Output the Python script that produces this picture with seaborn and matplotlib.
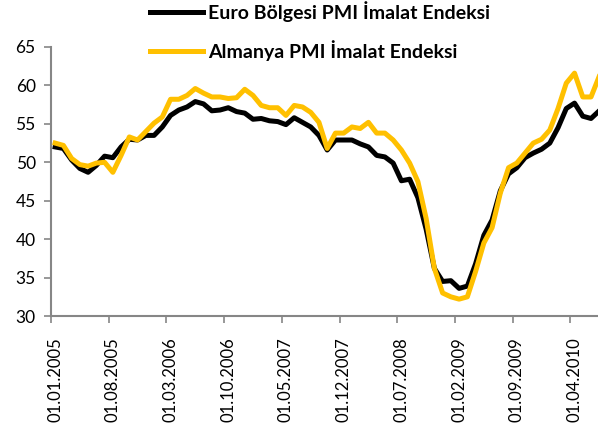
import numpy as np
import matplotlib
matplotlib.use("Agg")
import matplotlib.pyplot as plt
import pandas as pd
import seaborn as sns

# monthly values, Jan 2005 - Jul 2010
months = pd.date_range("2005-01-01", "2010-07-01", freq="MS")

euro = [52.0, 51.8, 50.3, 49.2, 48.7, 49.6, 50.8, 50.6, 52.0, 53.0, 52.9, 53.5,
        53.5, 54.6, 56.1, 56.8, 57.2, 57.9, 57.6, 56.7, 56.8, 57.1, 56.6, 56.4,
        55.6, 55.7, 55.4, 55.3, 54.9, 55.8, 55.2, 54.6, 53.5, 51.6, 52.9, 52.9,
        52.9, 52.4, 52.0, 50.9, 50.7, 49.9, 47.6, 47.8, 45.4, 41.3, 36.2, 34.5,
        34.6, 33.6, 33.9, 36.8, 40.5, 42.5, 46.3, 48.5, 49.3, 50.6, 51.2, 51.7,
        52.5, 54.5, 57.0, 57.7, 56.0, 55.7, 56.7]

almanya = [52.5, 52.2, 50.5, 49.7, 49.5, 49.9, 50.0, 48.7, 50.9, 53.3, 52.9, 54.0,
           55.1, 55.9, 58.2, 58.2, 58.7, 59.6, 59.0, 58.5, 58.5, 58.3, 58.4, 59.5,
           58.7, 57.4, 57.1, 57.1, 56.1, 57.4, 57.2, 56.5, 55.2, 51.8, 53.8, 53.8,
           54.6, 54.4, 55.2, 53.8, 53.8, 52.9, 51.6, 49.9, 47.5, 42.7, 36.2, 33.0,
           32.5, 32.2, 32.5, 35.8, 39.5, 41.5, 46.0, 49.3, 49.9, 51.2, 52.5, 53.0,
           54.2, 57.0, 60.3, 61.6, 58.5, 58.5, 61.2]

series_names = ["Euro Bölgesi PMI İmalat Endeksi", "Almanya PMI İmalat Endeksi"]
label_step = 7

df = pd.DataFrame({
    "x": np.tile(np.arange(len(months)), 2),
    "value": euro + almanya,
    "series": np.repeat(series_names, len(months)),
})

plt.rcParams["font.family"] = ["Lato", "DejaVu Sans"]

fig = plt.figure(figsize=(5.98, 4.30), dpi=100)
ax = fig.add_axes([0.0853, 0.265, 0.9237, 0.6257])

ax = sns.lineplot(data=df, x="x", y="value", hue="series",
                  palette=["black", "#FFC000"], linewidth=3.6, ax=ax,
                  legend=False)

ax.set_ylim(30, 65)
ax.set_yticks(range(30, 66, 5))
ax.set_xlim(-0.5, len(months) - 0.5)

# tick marks between categories, labels under categories
label_pos = np.arange(0, len(months), label_step)
ax.set_xticks(label_pos - 0.5)
ax.set_xticklabels([])
ax.set_xticks(label_pos, minor=True)
ax.set_xticklabels([months[i].strftime("%d.%m.%Y") for i in label_pos],
                   minor=True, rotation=90, fontsize=12)
ax.tick_params(axis="x", which="minor", length=0, pad=15)
ax.tick_params(axis="x", which="major", length=5, width=1.2, color="#868686")
ax.tick_params(axis="y", length=5, width=1.2, color="#868686", labelsize=12.5, pad=6)

for side in ["top", "right"]:
    ax.spines[side].set_visible(False)
for side in ["left", "bottom"]:
    ax.spines[side].set_color("#868686")
    ax.spines[side].set_linewidth(1.5)

ax.set_xlabel("")
ax.set_ylabel("")

handles = [plt.Line2D([], [], color=c, linewidth=3.6) for c in ["black", "#FFC000"]]
fig.legend(handles, series_names, loc="upper left",
           bbox_to_anchor=(150 / 598, 1 - 1 / 430),
           frameon=False, borderpad=0, borderaxespad=0, handlelength=2.7,
           handletextpad=0.28, labelspacing=0.95,
           prop={"weight": "bold", "size": 14})

fig.savefig("out.png", dpi=100)
